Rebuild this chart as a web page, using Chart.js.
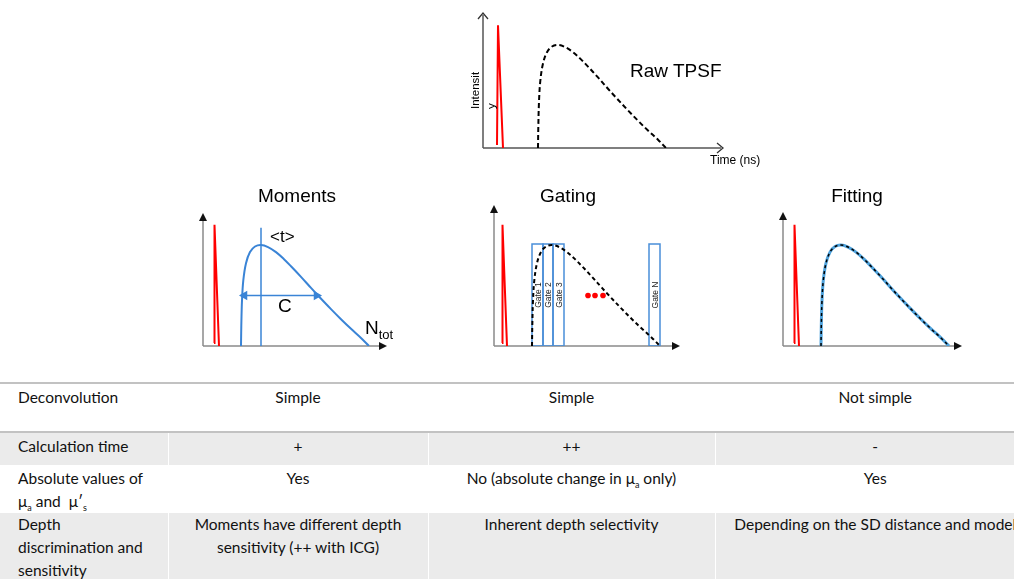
<!DOCTYPE html>
<html lang="en">
<head>
<meta charset="UTF-8">
<title>TPSF analysis methods</title>
<style>
    body {
        margin: 0;
        width: 1014px;
        height: 579px;
        overflow: hidden;
        position: relative;
        background: #fff;
        color: #000;
        font-family: 'Liberation Sans', Arial, sans-serif;
    }
    .plot { position: absolute; }
    .lbl { position: absolute; white-space: nowrap; line-height: 1; }
    .title { font-size: 19px; }
    .ctr { transform: translateX(-50%); }
    .gate { position: absolute; font-size: 8.5px; color: #222; white-space: nowrap; line-height: 1;
            transform: translate(-50%, -50%) rotate(-90deg); }

    table.cmp {
        position: absolute;
        left: 0;
        top: 382px;
        width: 1035px;
        border-collapse: collapse;
        table-layout: fixed;
        font-family: Lato, 'Open Sans', sans-serif;
        font-size: 15.5px;
        line-height: 23px;
        color: #111;
        border-top: 2px solid #c2c2c2;
    }
    table.cmp sub { font-size: 9px; line-height: 0; }
    table.cmp td {
        vertical-align: top;
        padding: 2px 4px 0 4px;
        text-align: center;
        border-left: 1px solid #fff;
        white-space: nowrap;
    }
    table.cmp td:first-child { text-align: left; padding-left: 18px; border-left: none; }
    table.cmp tr.r1 td { height: 45px; border-bottom: 2px solid #c2c2c2; }
    table.cmp tr.r2 td { height: 30px; background: #ebebeb; }
    table.cmp tr.r3 td { height: 46px; }
    table.cmp tr.r4 td { height: 80px; padding-top: 0; background: #ebebeb; }
</style>
</head>
<body>

<div class="plot" style="left:473px; top:3px;"><canvas id="rawChart" width="260" height="155"></canvas></div>
<div class="plot" style="left:193px; top:203px;"><canvas id="momentsChart" width="204" height="153"></canvas></div>
<div class="plot" style="left:484px; top:195px;"><canvas id="gatingChart" width="206" height="161"></canvas></div>
<div class="plot" style="left:773px; top:202px;"><canvas id="fittingChart" width="199" height="154"></canvas></div>

<!-- labels -->
<div class="lbl title" style="left:630px; top:61px;">Raw TPSF</div>
<div class="lbl" style="left:467px; top:109px; font-size:11.5px; line-height:16px; transform-origin:0 0; transform:rotate(-90deg);">Intensit<br>y</div>
<div class="lbl" style="left:710px; top:154px; font-size:12px;">Time (ns)</div>

<div class="lbl title ctr" style="left:297px; top:186px;">Moments</div>
<div class="lbl title ctr" style="left:568px; top:186px;">Gating</div>
<div class="lbl title ctr" style="left:857px; top:186px;">Fitting</div>

<div class="lbl" style="left:270px; top:228px; font-size:17px;">&lt;t&gt;</div>
<div class="lbl" style="left:278px; top:296px; font-size:19px;">C</div>
<div class="lbl" style="left:365px; top:318px; font-size:19px;">N<span style="font-size:13px; position:relative; top:5px;">tot</span></div>

<table class="cmp">
    <colgroup>
        <col style="width:168px"><col style="width:260px"><col style="width:287px"><col style="width:320px">
    </colgroup>
    <tr class="r1"><td>Deconvolution</td><td>Simple</td><td>Simple</td><td>Not simple</td></tr>
    <tr class="r2"><td>Calculation time</td><td>+</td><td>++</td><td>-</td></tr>
    <tr class="r3"><td>Absolute values of<br>&mu;<sub>a</sub> and &nbsp;&mu;&prime;<sub>s</sub></td><td>Yes</td><td>No (absolute change in &mu;<sub>a</sub> only)</td><td>Yes</td></tr>
    <tr class="r4"><td>Depth<br>discrimination and<br>sensitivity</td><td>Moments have different depth<br>sensitivity (++ with ICG)</td><td>Inherent depth selectivity</td><td>Depending on the SD distance and model</td></tr>
</table>

<script src="https://cdn.jsdelivr.net/npm/chart.js"></script>
<script>
    // time in ~10px units from the y axis, intensity normalised to the TPSF peak
    var tpsfIntensity = [0, 0.2, 0.45, 0.65, 0.82, 0.93, 0.985, 1.0, 0.98, 0.93, 0.86, 0.79, 0.685, 0.575, 0.5, 0.365, 0.265, 0.17, 0.08, 0];
    var rawTime   = [5.5, 5.53, 5.6, 5.73, 6.0, 6.4, 6.9, 7.5, 8.2, 9.0, 9.8, 10.5, 11.5, 12.5, 13.2, 14.5, 15.5, 16.5, 17.5, 18.3];
    var panelTime = [3.8, 3.83, 3.9, 4.03, 4.3, 4.7, 5.2, 5.8, 6.5, 7.3, 8.1, 8.8, 9.8, 10.8, 11.5, 12.8, 13.8, 14.8, 15.8, 16.6];

    // instrument response (red spike)
    var rawIrfTime = [1.4, 1.5, 2.0];
    var rawIrfIntensity = [0.03, 1.19, 0];
    var momentsIrfTime = [1.1, 1.15, 1.6];
    var gatingIrfTime = [0.8, 0.85, 1.3];
    var fittingIrfTime = [1.1, 1.15, 1.6];
    var panelIrfIntensity = [0.03, 1.2, 0];

    // moments panel
    var meanTime = [5.8, 5.8];
    var meanLine = [0, 1.17];
    var widthTime = [4.15, 11.35];
    var widthLevel = [0.5, 0.5];

    // gating panel
    var gateLabels = ['Gate 1', 'Gate 2', 'Gate 3', 'Gate N'];
    var gateStart = [3.8, 4.9, 5.9, 15.5];
    var gateEnd = [4.9, 5.9, 7.0, 16.6];
    var gateTop = 1.01;
    var dotTime = [9.4, 10.1, 10.9];
    var dotLevel = [0.5, 0.5, 0.5];

    var RED = '#ff0000';
    var BLUE = '#3a84d6';

    function pts(xs, ys) {
        return xs.map(function (x, i) { return { x: x, y: ys[i] }; });
    }

    // axes with arrow heads
    var axisArrows = {
        id: 'axisArrows',
        beforeDatasetsDraw: function (chart, args, o) {
            var ctx = chart.ctx, a = chart.chartArea;
            var x0 = chart.scales.x.getPixelForValue(0);
            var y0 = chart.scales.y.getPixelForValue(0);
            ctx.save();
            ctx.strokeStyle = o.color;
            ctx.lineWidth = o.width;
            ctx.beginPath();
            ctx.moveTo(x0, y0); ctx.lineTo(a.right - 2, y0);
            ctx.moveTo(x0, y0); ctx.lineTo(x0, a.top + 2);
            ctx.stroke();
            if (o.open) {
                ctx.strokeStyle = o.headColor;
                ctx.lineWidth = 1.3;
                ctx.beginPath();
                ctx.moveTo(a.right - 6, y0 - 5); ctx.lineTo(a.right, y0); ctx.lineTo(a.right - 6, y0 + 5);
                ctx.moveTo(x0 - 5, a.top + 6); ctx.lineTo(x0, a.top); ctx.lineTo(x0 + 5, a.top + 6);
                ctx.stroke();
            } else {
                ctx.fillStyle = o.headColor;
                ctx.beginPath();
                ctx.moveTo(a.right, y0); ctx.lineTo(a.right - 8, y0 - 4); ctx.lineTo(a.right - 8, y0 + 4);
                ctx.closePath(); ctx.fill();
                ctx.beginPath();
                ctx.moveTo(x0, a.top); ctx.lineTo(x0 - 4, a.top + 8); ctx.lineTo(x0 + 4, a.top + 8);
                ctx.closePath(); ctx.fill();
            }
            ctx.restore();
        }
    };

    function makePlot(id, xMax, yMax, datasets, arrows) {
        return new Chart(document.getElementById(id), {
            type: 'line',
            data: { datasets: datasets },
            options: {
                responsive: false,
                animation: false,
                layout: { padding: 10 },
                plugins: { legend: { display: false }, tooltip: { enabled: false }, axisArrows: arrows },
                elements: { point: { radius: 0 } },
                scales: {
                    x: { type: 'linear', min: 0, max: xMax, display: false },
                    y: { min: 0, max: yMax, display: false }
                }
            },
            plugins: [axisArrows]
        });
    }

    function irf(xs, ys) {
        return { data: pts(xs, ys), borderColor: RED, borderWidth: 2, tension: 0 };
    }

    function curve(xs, color, width, dash) {
        return { data: pts(xs, tpsfIntensity), borderColor: color, borderWidth: width, borderDash: dash || [], tension: 0.35 };
    }

    makePlot('rawChart', 24, 1.31, [
        curve(rawTime, '#000', 2, [5, 3]),
        irf(rawIrfTime, rawIrfIntensity)
    ], { color: '#555', width: 1.5, headColor: '#333', open: true });

    makePlot('momentsChart', 18.4, 1.317, [
        { data: pts(widthTime, widthLevel), borderColor: BLUE, borderWidth: 1.5, pointStyle: 'triangle', pointRadius: 4,
          pointRotation: [270, 90], pointBackgroundColor: BLUE, pointBorderColor: BLUE },
        { data: pts(meanTime, meanLine), borderColor: BLUE, borderWidth: 1.5 },
        curve(panelTime, BLUE, 2),
        irf(momentsIrfTime, panelIrfIntensity)
    ], { color: '#8a8a8a', width: 1.5, headColor: '#111', open: false });

    var gateSets = gateStart.map(function (s, i) {
        var e = gateEnd[i];
        return { data: pts([s, s, e, e, s], [0, gateTop, gateTop, 0, 0]), borderColor: '#4a8fd9', borderWidth: 1.5, tension: 0 };
    });
    var gating = makePlot('gatingChart', 18.6, 1.396, [
        curve(panelTime, '#000', 2, [4, 3]),
        { data: pts(dotTime, dotLevel), showLine: false, pointRadius: 2.8, pointBackgroundColor: RED, pointBorderWidth: 0 }
    ].concat(gateSets, [irf(gatingIrfTime, panelIrfIntensity)]), { color: '#8a8a8a', width: 1.5, headColor: '#111', open: false });

    makePlot('fittingChart', 17.9, 1.327, [
        curve(panelTime, '#000', 1.5, [3, 3]),
        curve(panelTime, '#4ea2dc', 3),
        irf(fittingIrfTime, panelIrfIntensity)
    ], { color: '#8a8a8a', width: 1.5, headColor: '#111', open: false });

    // gate names, placed through the chart's scales
    var gx = gating.scales.x, gy = gating.scales.y;
    var box = gating.canvas.parentNode;
    gateLabels.forEach(function (name, i) {
        var d = document.createElement('div');
        d.className = 'gate';
        d.textContent = name;
        d.style.left = (box.offsetLeft + gx.getPixelForValue((gateStart[i] + gateEnd[i]) / 2)) + 'px';
        d.style.top = (box.offsetTop + gy.getPixelForValue(0.5)) + 'px';
        document.body.appendChild(d);
    });
</script>
</body>
</html>
